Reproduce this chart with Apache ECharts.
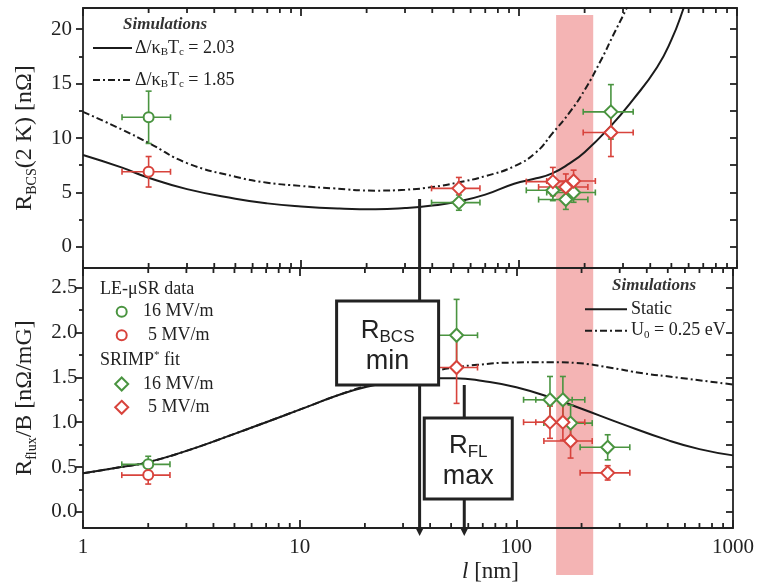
<!DOCTYPE html>
<html><head><meta charset="utf-8">
<script src="https://cdn.jsdelivr.net/npm/echarts@6/dist/echarts.min.js"></script>
<style>html,body{margin:0;padding:0;background:#fff}#c{width:757px;height:586px}</style>
</head><body><div id="c"></div>
<script>
// ---------------- data ----------------
const xMinorTicks = [2,3,4,5,6,7,8,9,20,30,40,50,60,70,80,90,200,300,400,500,600,700,800,900];
const topYTicks = [0, 5, 10, 15, 20];
const topYMinor = [2.5, 7.5, 12.5, 17.5];
const botYTicks = [0, 0.5, 1, 1.5, 2, 2.5];
const botYMinor = [0.25, 0.75, 1.25, 1.75, 2.25];

// simulations, top panel (R_BCS)
const topSolidX = [1, 1.5, 2, 3, 5, 7, 10, 15, 22, 30, 40, 52, 70, 95, 120, 142, 170, 200, 261, 333, 430, 500, 564, 620];
const topSolidY = [8.44, 7.3, 6.35, 5.31, 4.43, 4.0, 3.72, 3.53, 3.46, 3.57, 3.8, 4.15, 4.8, 5.8, 6.3, 6.76, 7.65, 8.7, 11.0, 13.5, 16.5, 19.0, 21.7, 24.3];
const topDashX = [1, 1.5, 2, 3, 5, 7, 10, 14, 22, 30, 40, 52, 70, 95, 120, 142, 170, 200, 240, 270, 310, 350];
const topDashY = [12.4, 10.8, 9.55, 7.7, 6.45, 5.9, 5.6, 5.38, 5.17, 5.25, 5.5, 5.9, 6.5, 7.4, 8.7, 10.4, 12.3, 14.4, 17.3, 19.4, 21.8, 24.0];
// simulations, bottom panel (R_flux/B)
const botStaticX = [1, 1.5, 2, 3, 5, 7, 10, 15, 20, 30, 40, 52, 70, 100, 150, 200, 300, 500, 700, 1000];
const botStaticY = [0.43, 0.5, 0.555, 0.68, 0.87, 1.0, 1.14, 1.3, 1.39, 1.47, 1.49, 1.49, 1.46, 1.39, 1.26, 1.15, 0.99, 0.8, 0.7, 0.63];
const botDashX = [1, 1.5, 2, 3, 5, 7, 10, 15, 20, 30, 40, 52, 66, 94, 143, 190, 268, 385, 548, 1000];
const botDashY = [0.43, 0.5, 0.555, 0.68, 0.87, 1.0, 1.14, 1.3, 1.4, 1.51, 1.565, 1.61, 1.64, 1.665, 1.67, 1.66, 1.61, 1.545, 1.5, 1.42];

// LE-muSR data (circles)
const leX = [2], leXLo = [1.51], leXHi = [2.52];
const leTop16 = [11.9], leTop16Err = [2.4];
const leTop5 = [6.9], leTop5Err = [1.4];
const leBot16 = [0.53], leBot16Err = [0.09];
const leBot5 = [0.41], leBot5Err = [0.1];
// SRIMP fit (diamonds)
const srX = [53, 143, 164, 178, 264];
const srXLo = [39.7, 108, 123, 134, 197];
const srXHi = [66.2, 181, 207, 224, 334];
const srTop16 = [4.07, 5.2, 4.35, 5.0, 12.4], srTop16Err = [0.7, 0.95, 0.9, 0.9, 2.5];
const srTop5 = [5.38, 6.0, 5.5, 6.05, 10.5], srTop5Err = [1.0, 1.3, 1.2, 1.0, 2.2];
const srBot16 = [1.97, 1.25, 1.25, 0.99, 0.72], srBot16Err = [0.4, 0.26, 0.26, 0.2, 0.14];
const srBot5 = [1.61, 1.0, 1.0, 0.79, 0.435], srBot5Err = [0.4, 0.18, 0.2, 0.19, 0.08];

// highlighted band and annotations
const bandX = [148, 219];
const rbcsMinX = 35, rbcsLineTop = 4.4;
const rflMaxX = 57.5, rflLineTop = 1.415;

// ---------------- styles ----------------
const serif = '"Liberation Serif","Times New Roman",serif';
const sans = '"Liberation Sans",Arial,sans-serif';
const ink = '#222';
const green = '#4a9440';
const red = '#d8433c';
const curve = '#1b1b1b';
const dashDot = [7, 3, 2, 3];
const tickW = 1.8;

const chart = echarts.init(document.getElementById('c'));

function xAxisDef(grid, pos, showLabel) {
  return {
    type: 'log', logBase: 10, gridIndex: grid, min: 1, max: 1000, position: pos,
    axisLine: {show: true, onZero: false, lineStyle: {color: ink, width: 1.8}},
    axisTick: {show: true, inside: true, length: 8, lineStyle: {color: ink, width: tickW}},
    axisLabel: {show: showLabel, margin: 9, color: ink, fontFamily: serif, fontSize: 21,
      formatter: v => String(Math.round(v))},
    splitLine: {show: false}
  };
}
function yMain(grid, min, max, ticks, fmt, margin, name, rich) {
  return {
    type: 'value', gridIndex: grid, min: min, max: max, position: 'left',
    axisLine: {show: true, onZero: false, lineStyle: {color: ink, width: 1.8}},
    axisTick: {show: true, inside: false, length: 7, customValues: ticks, lineStyle: {color: ink, width: tickW}},
    axisLabel: {show: true, customValues: ticks, margin: margin, color: ink, fontFamily: serif, fontSize: 21, formatter: fmt},
    splitLine: {show: false},
    name: name, nameLocation: 'middle', nameGap: 44, nameRotate: 90,
    nameTextStyle: {color: ink, fontFamily: serif, fontSize: 24, rich: rich}
  };
}
function yMinor(grid, min, max, ticks) {
  return {
    type: 'value', gridIndex: grid, min: min, max: max, position: 'left',
    axisLine: {show: false, onZero: false},
    axisTick: {show: true, inside: false, length: 4, customValues: ticks, lineStyle: {color: ink, width: tickW}},
    axisLabel: {show: false, customValues: ticks}, splitLine: {show: false}
  };
}
function yRight(grid, min, max, ticks) {
  return {
    type: 'value', gridIndex: grid, min: min, max: max, position: 'right',
    axisLine: {show: true, onZero: false, lineStyle: {color: ink, width: 1.8}},
    axisTick: {show: true, inside: true, length: 7, customValues: ticks, lineStyle: {color: ink, width: tickW}},
    axisLabel: {show: false, customValues: ticks}, splitLine: {show: false}
  };
}
const yRich = {
  n: {fontFamily: serif, fontSize: 24, lineHeight: 28, color: ink},
  s: {fontFamily: serif, fontSize: 14, lineHeight: 14, verticalAlign: 'bottom', color: ink}
};
const zip = (a, b) => a.map((v, i) => [v, b[i]]);

function minorXRender(params, api) {
  const cs = params.coordSys;
  const x = api.coord([api.value(0), api.value(1)])[0];
  const st = {stroke: ink, lineWidth: tickW};
  return {type: 'group', children: [
    {type: 'line', shape: {x1: x, y1: cs.y + cs.height, x2: x, y2: cs.y + cs.height - 5}, style: st},
    {type: 'line', shape: {x1: x, y1: cs.y, x2: x, y2: cs.y + 5}, style: st}
  ]};
}
function errSeries(grid, xs, xlo, xhi, ys, yerr, color) {
  return {
    type: 'custom', xAxisIndex: grid ? 4 : 0, yAxisIndex: grid ? 3 : 0, z: 3, silent: true,
    data: xs.map((x, i) => [x, ys[i], xlo[i], xhi[i], ys[i] - yerr[i], ys[i] + yerr[i]]),
    renderItem: function (params, api) {
      const x = api.value(0), y = api.value(1);
      const pl = api.coord([api.value(2), y]), ph = api.coord([api.value(3), y]);
      const pb = api.coord([x, api.value(4)]), pt = api.coord([x, api.value(5)]);
      const st = {stroke: color, lineWidth: 1.6};
      const c = 3;
      const L = (x1, y1, x2, y2) => ({type: 'line', shape: {x1, y1, x2, y2}, style: st});
      return {type: 'group', children: [
        L(pl[0], pl[1], ph[0], ph[1]), L(pb[0], pb[1], pt[0], pt[1]),
        L(pl[0], pl[1] - c, pl[0], pl[1] + c), L(ph[0], ph[1] - c, ph[0], ph[1] + c),
        L(pb[0] - c, pb[1], pb[0] + c, pb[1]), L(pt[0] - c, pt[1], pt[0] + c, pt[1])
      ]};
    }
  };
}
function markSeries(grid, xs, ys, symbol, size, color) {
  return {
    type: 'scatter', xAxisIndex: grid ? 4 : 0, yAxisIndex: grid ? 3 : 0, z: 4, silent: true,
    symbol: symbol, symbolSize: size,
    itemStyle: {color: '#fff', borderColor: color, borderWidth: 2, opacity: 1},
    data: zip(xs, ys)
  };
}
function lineSeries(grid, xs, ys, dashed) {
  return {
    type: 'line', xAxisIndex: grid ? 4 : 0, yAxisIndex: grid ? 3 : 0, z: 2, silent: true,
    smooth: true, showSymbol: false, clip: true,
    lineStyle: {color: curve, width: 2, type: dashed ? dashDot : 'solid'},
    data: zip(xs, ys)
  };
}

const topMin = -1.93, topMax = 21.93, botMin = -0.18, botMax = 2.72;

chart.setOption({
  backgroundColor: '#fff',
  animation: false,
  grid: [
    {left: 83, top: 8, width: 654, height: 260},
    {left: 83, top: 268, width: 654, height: 260}
  ],
  xAxis: [
    xAxisDef(0, 'bottom', false), xAxisDef(0, 'top', false),
    Object.assign(xAxisDef(0, 'bottom', false), {axisTick: {show: false}, axisLine: {show: false, onZero: false}}),
    Object.assign(xAxisDef(0, 'top', false), {axisTick: {show: false}, axisLine: {show: false, onZero: false}}),
    xAxisDef(1, 'bottom', true), xAxisDef(1, 'top', false)
  ],
  yAxis: [
    yMain(0, topMin, topMax, topYTicks, v => String(v), 11, '{n|R}{s|BCS}{n|(2 K) [nΩ]}', yRich),
    yMinor(0, topMin, topMax, topYMinor),
    yRight(0, topMin, topMax, topYTicks.concat(topYMinor)),
    yMain(1, botMin, botMax, botYTicks, v => v.toFixed(1), 5.5, '{n|R}{s|flux}{n|/B [nΩ/mG]}', yRich),
    yMinor(1, botMin, botMax, botYMinor),
    yRight(1, botMin, botMax, botYTicks.concat(botYMinor))
  ],
  series: [
    lineSeries(0, topSolidX, topSolidY, false),
    lineSeries(0, topDashX, topDashY, true),
    lineSeries(1, botStaticX, botStaticY, false),
    lineSeries(1, botDashX, botDashY, true),
    {type: 'custom', xAxisIndex: 0, yAxisIndex: 0, silent: true, z: 1, renderItem: minorXRender,
      data: xMinorTicks.map(v => [v, 0])},
    {type: 'custom', xAxisIndex: 4, yAxisIndex: 3, silent: true, z: 1, renderItem: minorXRender,
      data: xMinorTicks.map(v => [v, 0])},
    errSeries(0, leX, leXLo, leXHi, leTop16, leTop16Err, green),
    errSeries(0, leX, leXLo, leXHi, leTop5, leTop5Err, red),
    errSeries(0, srX, srXLo, srXHi, srTop16, srTop16Err, green),
    errSeries(0, srX, srXLo, srXHi, srTop5, srTop5Err, red),
    errSeries(1, leX, leXLo, leXHi, leBot16, leBot16Err, green),
    errSeries(1, leX, leXLo, leXHi, leBot5, leBot5Err, red),
    errSeries(1, srX, srXLo, srXHi, srBot16, srBot16Err, green),
    errSeries(1, srX, srXLo, srXHi, srBot5, srBot5Err, red),
    markSeries(0, leX, leTop16, 'circle', 10, green),
    markSeries(0, leX, leTop5, 'circle', 10, red),
    markSeries(0, srX, srTop16, 'diamond', 13, green),
    markSeries(0, srX, srTop5, 'diamond', 13, red),
    markSeries(1, leX, leBot16, 'circle', 10, green),
    markSeries(1, leX, leBot5, 'circle', 10, red),
    markSeries(1, srX, srBot16, 'diamond', 13, green),
    markSeries(1, srX, srBot5, 'diamond', 13, red)
  ]
});

// ---------------- annotations & legends ----------------
const topRef = {seriesIndex: 0}, botRef = {seriesIndex: 2};
const bx1 = chart.convertToPixel(topRef, [bandX[0], 0])[0];
const bx2 = chart.convertToPixel(topRef, [bandX[1], 0])[0];
const p1 = chart.convertToPixel(topRef, [rbcsMinX, rbcsLineTop]);
const p2 = chart.convertToPixel(botRef, [rflMaxX, rflLineTop]);
const arrowTip = 536;

const sRich = (big, small) => ({
  a: {fontFamily: serif, fontSize: big, lineHeight: big + 2, fill: ink},
  b: {fontFamily: serif, fontSize: small, lineHeight: small, verticalAlign: 'bottom', fill: ink},
  t: {fontFamily: serif, fontSize: small, lineHeight: small, verticalAlign: 'top', fill: ink},
  i: {fontFamily: serif, fontSize: big, lineHeight: big + 2, fontStyle: 'italic', fill: ink}
});
const T = (x, y, text, rich) => ({type: 'text', x: x, y: y, silent: true, z: 70,
  style: {text: text, rich: rich, verticalAlign: 'middle', align: 'left'}});
const titleStyle = (x, y) => ({type: 'text', x: x, y: y, silent: true, z: 70,
  style: {text: 'Simulations', fontFamily: serif, fontSize: 17, fontStyle: 'italic', fontWeight: 'bold',
    fill: '#333', verticalAlign: 'middle'}});
const legLine = (x1, x2, y, dashed) => ({type: 'line', silent: true, z: 70,
  shape: {x1: x1, y1: y, x2: x2, y2: y}, style: {stroke: curve, lineWidth: 2, lineDash: dashed ? dashDot : null}});
const legCircle = (x, y, color) => ({type: 'circle', silent: true, z: 70, shape: {cx: x, cy: y, r: 5},
  style: {fill: '#fff', stroke: color, lineWidth: 2}});
const legDiamond = (x, y, color) => ({type: 'polygon', silent: true, z: 70,
  shape: {points: [[x, y - 6.5], [x + 6.5, y], [x, y + 6.5], [x - 6.5, y]]},
  style: {fill: '#fff', stroke: color, lineWidth: 2}});
const aRich = {
  r: {fontFamily: sans, fontSize: 26, lineHeight: 30, fill: ink},
  s: {fontFamily: sans, fontSize: 17, lineHeight: 17, verticalAlign: 'bottom', fill: ink}
};
const r18 = sRich(18, 11);

chart.setOption({
  graphic: [
    // band
    {type: 'rect', silent: true, z: -1, shape: {x: bx1, y: 15, width: bx2 - bx1, height: 560},
      style: {fill: '#f4b4b4'}},
    // R_BCS min marker
    {type: 'line', silent: true, z: 50, shape: {x1: p1[0], y1: p1[1], x2: p1[0], y2: arrowTip - 6},
      style: {stroke: ink, lineWidth: 3}},
    {type: 'polygon', silent: true, z: 50, shape: {points: [[p1[0] - 4, arrowTip - 8], [p1[0] + 4, arrowTip - 8], [p1[0], arrowTip]]},
      style: {fill: ink}},
    {type: 'rect', silent: true, z: 60, shape: {x: p1[0] - 83, y: 301, width: 102, height: 84},
      style: {fill: '#fff', stroke: ink, lineWidth: 3}},
    {type: 'text', x: p1[0] - 32, y: 331, silent: true, z: 70,
      style: {text: '{r|R}{s|BCS}', rich: aRich, align: 'center', verticalAlign: 'middle'}},
    {type: 'text', x: p1[0] - 32, y: 362, silent: true, z: 70,
      style: {text: 'min', fontFamily: sans, fontSize: 27, fill: ink, align: 'center', verticalAlign: 'middle'}},
    // R_FL max marker
    {type: 'line', silent: true, z: 50, shape: {x1: p2[0], y1: p2[1], x2: p2[0], y2: arrowTip - 6},
      style: {stroke: ink, lineWidth: 3}},
    {type: 'polygon', silent: true, z: 50, shape: {points: [[p2[0] - 4, arrowTip - 8], [p2[0] + 4, arrowTip - 8], [p2[0], arrowTip]]},
      style: {fill: ink}},
    {type: 'rect', silent: true, z: 60, shape: {x: p2[0] - 40, y: 418, width: 88, height: 81},
      style: {fill: '#fff', stroke: ink, lineWidth: 3}},
    {type: 'text', x: p2[0] + 4, y: 446, silent: true, z: 70,
      style: {text: '{r|R}{s|FL}', rich: aRich, align: 'center', verticalAlign: 'middle'}},
    {type: 'text', x: p2[0] + 4, y: 477, silent: true, z: 70,
      style: {text: 'max', fontFamily: sans, fontSize: 27, fill: ink, align: 'center', verticalAlign: 'middle'}},
    // top-left legend
    titleStyle(123, 25),
    legLine(93, 132, 48, false),
    T(135, 48, '{a|Δ/κ}{b|B}{a|T}{b|c}{a| = 2.03}', r18),
    legLine(93, 132, 80, true),
    T(135, 80, '{a|Δ/κ}{b|B}{a|T}{b|c}{a| = 1.85}', r18),
    // bottom-left legend
    T(100, 289, '{a|LE-μSR data}', r18),
    legCircle(121.7, 311.7, green), T(143, 311.7, '{a|16 MV/m}', r18),
    legCircle(121.7, 335.3, red), T(148, 335.3, '{a|5 MV/m}', r18),
    T(100, 360, '{a|SRIMP}{t|*}{a| fit}', r18),
    legDiamond(121.7, 384, green), T(143, 384, '{a|16 MV/m}', r18),
    legDiamond(121.7, 407.3, red), T(148, 407.3, '{a|5 MV/m}', r18),
    // bottom-right legend
    titleStyle(612, 286),
    legLine(585, 627, 309.3, false), T(631, 309.3, '{a|Static}', r18),
    legLine(585, 627, 330.7, true), T(631, 330.7, '{a|U}{b|0}{a| = 0.25 eV}', r18),
    // x axis title
    T(462, 572, '{i|l}{a| [nm]}', sRich(23, 14))
  ]
});
</script>
</body></html>
